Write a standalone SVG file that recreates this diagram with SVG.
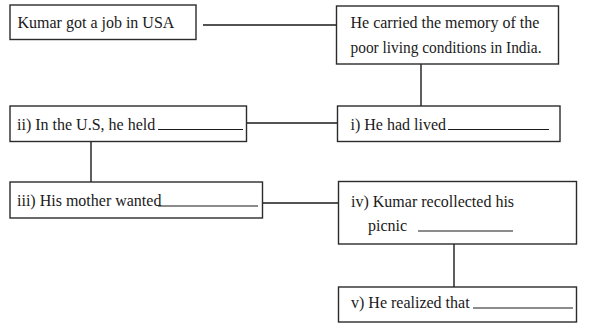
<svg xmlns="http://www.w3.org/2000/svg" width="589" height="324" viewBox="0 0 589 324">
<style>
.box{fill:#fff;stroke:#2b2b2b;stroke-width:1.4}
.t{font-family:"Liberation Serif","Times New Roman",serif;font-size:16px;fill:#1a1a1a}
.blank{stroke:#1a1a1a;stroke-width:1.2}
.conn{stroke:#1a1a1a;stroke-width:1.4;fill:none}
</style>
<rect width="589" height="324" fill="#fff"/>
<g id="connectors">
<line class="conn" x1="203" y1="25" x2="337" y2="25"/>
<line class="conn" x1="421" y1="64" x2="421" y2="106"/>
<line class="conn" x1="247" y1="123" x2="337" y2="123"/>
<line class="conn" x1="91" y1="142" x2="91" y2="182"/>
<line class="conn" x1="263" y1="203" x2="338" y2="203"/>
<line class="conn" x1="454" y1="244" x2="454" y2="287"/>
</g>
<g id="n1">
<rect class="box" x="10" y="5" width="186" height="34.5"/>
<text class="t" x="17.5" y="28">Kumar got a job in USA</text>
</g>
<g id="n2">
<rect class="box" x="336.5" y="6" width="222" height="58"/>
<text class="t" x="350.5" y="28">He carried the memory of the</text>
<text class="t" x="350.5" y="53" textLength="191" lengthAdjust="spacingAndGlyphs">poor living conditions in India.</text>
</g>
<g id="n3">
<rect class="box" x="337.5" y="106" width="222.5" height="35.5"/>
<text class="t" x="350.5" y="129.5">i) He had lived</text>
<line class="blank" x1="448" y1="129.5" x2="549" y2="129.5"/>
</g>
<g id="n4">
<rect class="box" x="10" y="106" width="236.5" height="35.5"/>
<text class="t" x="17" y="129.5">ii) In the U.S, he held</text>
<line class="blank" x1="158" y1="129.5" x2="243" y2="129.5"/>
</g>
<g id="n5">
<rect class="box" x="10" y="182" width="252.5" height="36"/>
<text class="t" x="17" y="206">iii) His mother wanted</text>
<line class="blank" x1="158" y1="206" x2="258" y2="206"/>
</g>
<g id="n6">
<rect class="box" x="338.5" y="181.5" width="238" height="62.5"/>
<text class="t" x="351" y="206.5">iv) Kumar recollected his</text>
<text class="t" x="368" y="231">picnic</text>
<line class="blank" x1="418" y1="231" x2="513" y2="231"/>
</g>
<g id="n7">
<rect class="box" x="338.5" y="287" width="238" height="35"/>
<text class="t" x="351" y="308">v) He realized that</text>
<line class="blank" x1="473" y1="308" x2="573" y2="308"/>
</g>
</svg>
